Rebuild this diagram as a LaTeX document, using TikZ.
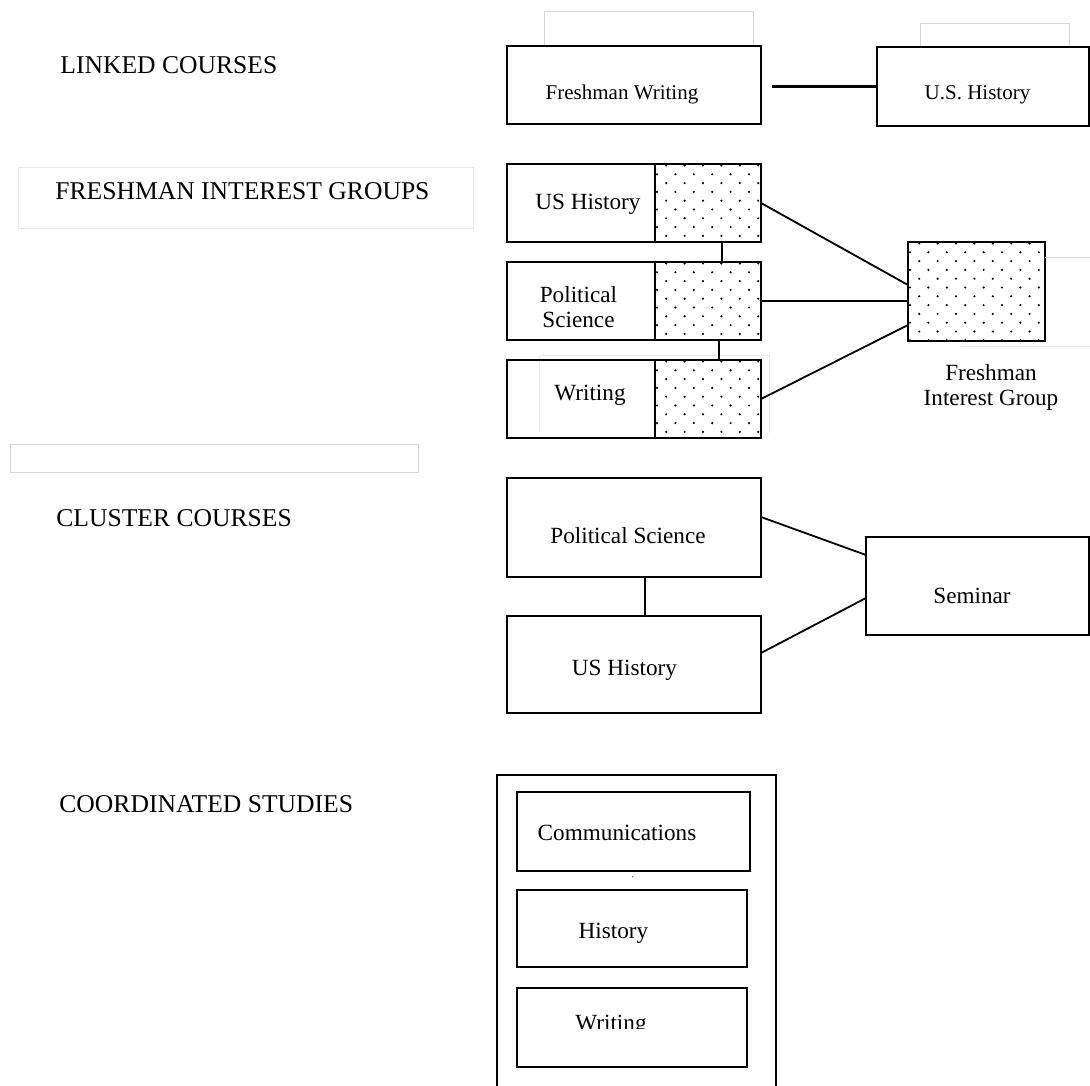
\documentclass[tikz,border=0pt]{standalone}
\usepackage{fontspec}
\setmainfont{Liberation Serif}

% staggered dot fill inside a rectangular node: node, columns, rows
\newcommand\stipple[3]{%
  \begin{scope}
    \clip (#1.north west) rectangle (#1.south east);
    \foreach \j in {0,...,#3}{
      \foreach \i in {0,...,#2}{
        \pgfmathsetmacro\xx{2+9.2*mod(\j+1,2)+18.4*\i}
        \pgfmathsetmacro\yy{1.5+8.8*\j}
        \fill ([shift={(\xx,\yy)}]#1.north west) circle[radius=0.6pt];
      }
    }
  \end{scope}}

\begin{document}
\begin{tikzpicture}[x=0.5pt,y=-0.5pt,
  box/.style={draw, line width=1.15pt, inner sep=0pt, outer sep=0pt},
  faint/.style={draw=black!16, line width=0.5pt},
  fainter/.style={draw=black!8, line width=0.5pt},
  link/.style={line width=0.9pt},
  head/.style={font=\fontsize{12.8}{15}\selectfont, anchor=base west, inner sep=0pt},
  txt/.style={font=\fontsize{11.6}{14}\selectfont, anchor=base, inner sep=0pt},
  txts/.style={font=\fontsize{10.5}{13}\selectfont, anchor=base, inner sep=0pt},
]
\useasboundingbox (0,0) rectangle (1090,1085);
\clip (0,0) rectangle (1090,1085);

% ---------- section headings ----------
\path[fainter] (18,168) rectangle (473,229);
\path[faint] (10,444) rectangle (418,472);
\node[head] (hLinked)  at (60,74)  {LINKED COURSES};
\node[head] (hFig)     at (55,200) {FRESHMAN INTEREST GROUPS};
\node[head] (hCluster) at (56,526) {CLUSTER COURSES};
\node[head] (hCoord)   at (59,812) {COORDINATED STUDIES};

% ---------- linked courses ----------
\path[faint] (544,12) rectangle (753,46);
\path[faint] (920,24) rectangle (1069,47);
\node[box, minimum width=127pt, minimum height=39pt]   (fw)  at (634,85)    {};
\node[box, minimum width=106pt, minimum height=39.5pt] (ush) at (983,86.5)  {};
\node[txts] (fwT)  at (622,100)   {Freshman Writing};
\node[txts] (ushT) at (977.5,100) {U.S. History};
\draw[link, line width=1.1pt, shorten <=5.5pt] (ush.west -| fw.east) -- (ush.west);

% ---------- freshman interest groups ----------
\path[fainter] (539,433) -- (539,355) -- (769,355) -- (769,433);
\foreach \r/\y in {1/203, 2/301, 3/399}{
  \node[box, minimum width=74pt, minimum height=39pt] (r\r)  at (581,\y) {};
  \node[box, minimum width=53pt, minimum height=39pt] (r\r d) at (708,\y) {};
}
\node[box, minimum width=68.5pt, minimum height=49.5pt] (fig) at (976.5,291.5) {};
\stipple{r1d}{6}{9}
\stipple{r2d}{6}{9}
\stipple{r3d}{6}{9}
\stipple{fig}{8}{11}
\foreach \n in {r1d,r2d,r3d,fig}{
  \draw[line width=1.15pt] (\n.north west) rectangle (\n.south east);
}
\node[txt] (r1T)  at (588,210)   {US History};
\node[txt] (r2Ta) at (578.5,302) {Political};
\node[txt] (r2Tb) at (578.5,327) {Science};
\node[txt] (r3T)  at (590,400)   {Writing};
\node[txt] (figTa) at (991,380)  {Freshman};
\node[txt] (figTb) at (991,405)  {Interest Group};

\draw[link] ([xshift=7pt]r1d.south) -- ([xshift=7pt]r2d.north);
\draw[link] ([xshift=5.5pt]r2d.south) -- ([xshift=5.5pt]r3d.north);
\draw[link] (r1d.east) -- ([yshift=3.25pt]fig.west);
\draw[link] (r2d.east) -- (r2d.east -| fig.west);
\draw[link] (r3d.east) -- ([yshift=-16.75pt]fig.west);
\draw[faint] ([yshift=16.75pt]fig.east) -- ++(45,0);
\draw[fainter] (961,346) -- (1090,346);

% ---------- cluster courses ----------
\node[box, minimum width=127pt, minimum height=49.5pt] (ps)   at (634,527.5) {};
\node[box, minimum width=127pt, minimum height=48.5pt] (ush2) at (634,664.5) {};
\node[box, minimum width=111.5pt, minimum height=49pt] (sem)  at (977.5,586) {};
\node[txt] (psT)   at (628,543)   {Political Science};
\node[txt] (ush2T) at (624.5,675) {US History};
\node[txt] (semT)  at (972,603)   {Seminar};
\draw[link, line width=1.1pt] ([xshift=5.5pt]ps.south) -- ([xshift=5.5pt]ush2.north);
\draw[link] ([yshift=5.25pt]ps.east) -- ([yshift=15.5pt]sem.west);
\draw[link] ([yshift=5.75pt]ush2.east) -- ([yshift=-6pt]sem.west);

% ---------- coordinated studies ----------
\node[box, minimum width=139.5pt, minimum height=162.5pt] (cs) at (636.5,937.5) {};
\node[box, minimum width=116.5pt, minimum height=39.5pt] (comm) at (633.5,831.5) {};
\node[box, minimum width=115pt, minimum height=38.5pt]   (hist) at (632,928.5) {};
\node[box, minimum width=115pt, minimum height=39.5pt]   (writ) at (632,1027.5) {};
\node[txt] (commT) at (617,840)   {Communications};
\node[txt] (histT) at (613.5,938) {History};
\begin{scope}
  \clip (517,988) rectangle (747,1028.5);
  \node[txt] (writT) at (611,1030) {Writing};
\end{scope}
\fill[black!55] (632.7,876.7) circle[radius=0.4pt];
\end{tikzpicture}
\end{document}
